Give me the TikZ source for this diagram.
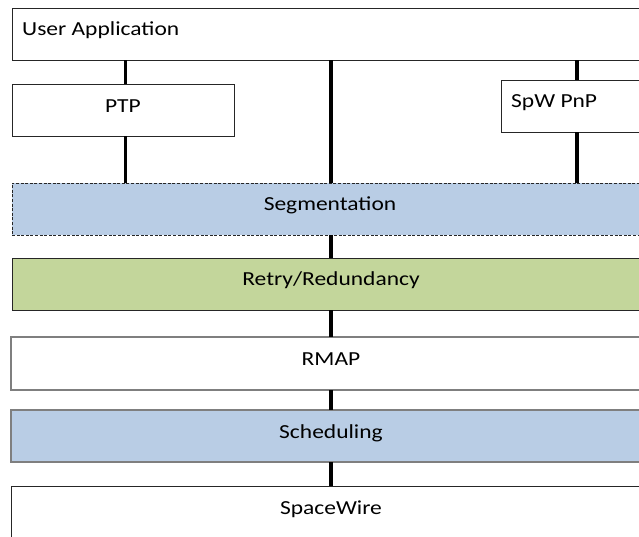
\documentclass[tikz,border=0pt]{standalone}
\usepackage{fontspec}
\setmainfont{Carlito}[FakeStretch=1.18]
\definecolor{bluefill}{HTML}{B9CDE5}
\definecolor{greenfill}{HTML}{C3D69B}
\definecolor{grayline}{HTML}{7F7F7F}
\begin{document}
\begin{tikzpicture}[x=1pt,y=-1pt,
  box/.style={draw=black!85,line width=0.9pt,inner sep=0pt,outer sep=0pt,anchor=north west,fill=white},
  graybox/.style={box,draw=grayline,line width=1.3pt},
  lbl/.style={inner sep=0pt,anchor=base,font=\fontsize{19.9}{22}\selectfont},
  conn/.style={line width=3.3pt,black}]
\useasboundingbox (0,0) rectangle (639,536);
\clip (0,0) rectangle (639,536);
% boxes
\node[box,minimum width=633pt,minimum height=52pt] (ua) at (12,8) {};
\node[box,minimum width=222pt,minimum height=52pt] (ptp) at (12,84) {};
\node[box,minimum width=144pt,minimum height=52pt] (pnp) at (501,80) {};
\node[box,fill=bluefill,dash pattern=on 3pt off 1.6pt,minimum width=633pt,minimum height=52pt] (seg) at (12,183) {};
\node[box,fill=greenfill,minimum width=633pt,minimum height=52pt] (retry) at (12,258) {};
\node[graybox,minimum width=634pt,minimum height=53pt] (rmap) at (11,337) {};
\node[graybox,fill=bluefill,minimum width=634pt,minimum height=52pt] (sched) at (11,410) {};
\node[box,minimum width=634pt,minimum height=70pt] (spw) at (11,486) {};
% connector columns
\coordinate (cL) at (125.5,0);
\coordinate (cM) at (331,0);
\coordinate (cR) at (577,0);
\draw[conn] (ua.south -| cL) -- (ptp.north -| cL);
\draw[conn] (ptp.south -| cL) -- (seg.north -| cL);
\draw[conn] (ua.south -| cM) -- (seg.north -| cM);
\draw[conn] (ua.south -| cR) -- (pnp.north -| cR);
\draw[conn] (pnp.south -| cR) -- (seg.north -| cR);
\draw[conn] (seg.south -| cM) -- (retry.north -| cM);
\draw[conn] (retry.south -| cM) -- (rmap.north -| cM);
\draw[conn] (rmap.south -| cM) -- (sched.north -| cM);
\draw[conn] (sched.south -| cM) -- (spw.north -| cM);
% labels
\node[lbl,anchor=base west] (tua) at (22,35) {User Application};
\node[lbl] (tptp) at (123,112) {PTP};
\node[lbl,anchor=base west] (tpnp) at (511,107) {SpW PnP};
\node[lbl] (tseg) at (330,210) {Segmentation};
\node[lbl] (tretry) at (331,285) {Retry/Redundancy};
\node[lbl] (trmap) at (331,365) {RMAP};
\node[lbl] (tsched) at (331,438.5) {Scheduling};
\node[lbl] (tspw) at (331,514) {SpaceWire};
\end{tikzpicture}
\end{document}
